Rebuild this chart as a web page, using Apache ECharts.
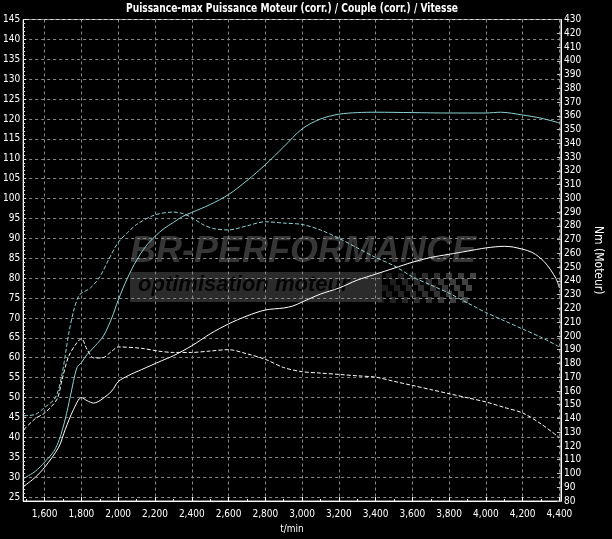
<!DOCTYPE html>
<html><head><meta charset="utf-8">
<script src="https://cdn.jsdelivr.net/npm/echarts@6/dist/echarts.min.js"></script>
<style>html,body{margin:0;padding:0;background:#000;}#c{width:612px;height:539px;}</style>
</head><body><div id="c"></div>
<script>
// ---- tick values ----
const rpmTicks = [1600,1800,2000,2200,2400,2600,2800,3000,3200,3400,3600,3800,4000,4200,4400];
const rpmMinorTicks = [1500,1600,1700,1800,1900,2000,2100,2200,2300,2400,2500,2600,2700,2800,2900,3000,3100,3200,3300,3400,3500,3600,3700,3800,3900,4000,4100,4200,4300,4400];
const powerTicks = [25,30,35,40,45,50,55,60,65,70,75,80,85,90,95,100,105,110,115,120,125,130,135,140,145];
const powerMinorTicks = [];
for (let v = 25; v <= 145; v++) powerMinorTicks.push(v);

// ---- Puissance (corr.) reprog : cyan solid (left axis) ----
const cyanPowerRpm = [1487,1550,1600,1650,1680,1712,1740,1775,1800,1830,1875,1920,1965,2000,2050,2100,2150,2200,2250,2300,2350,2400,2500,2600,2700,2800,2900,3000,3100,3200,3300,3400,3600,3800,4000,4080,4200,4300,4400];
const cyanPower    = [29.7,31.5,33.8,36.5,39.5,44.6,50.4,57.5,58.8,60.8,63,65.5,70,74.5,80,84.5,88,90.5,92.5,94,95.5,96.5,98.5,101,104.5,108.5,113,117.5,120,121.2,121.6,121.7,121.6,121.5,121.5,121.7,121,120.2,119];

// ---- Couple (corr.) reprog : cyan dashed (right axis, Nm) ----
const cyanTorqueRpm = [1487,1550,1600,1658,1694,1730,1757,1784,1800,1850,1900,1950,2000,2050,2100,2200,2300,2350,2400,2460,2520,2600,2700,2800,2900,3000,3100,3200,3300,3400,3500,3600,3700,3800,3900,4000,4100,4200,4300,4400];
const cyanTorque    = [142,143,148,155,172,201,218,229,231,235,243,256,268,275,281,288,290,289,286,281,278,277,280,283,282,281,277,271,264,257,251,243,237,231,224,217,211,205,199,192];

// ---- Puissance origine : white solid (left axis) ----
const whitePowerRpm = [1487,1550,1600,1676,1712,1757,1800,1831,1867,1912,1966,2000,2054,2126,2234,2300,2400,2500,2600,2700,2800,2900,2950,3000,3100,3200,3300,3400,3500,3600,3700,3800,3900,4000,4100,4150,4250,4320,4380,4400];
const whitePower    = [27.7,30,32.5,37.5,42,47,50,49.2,48.6,49.6,51.7,54,55.5,57,59.2,60.5,63,66,68.5,70.5,72,72.5,73,74,76,77.5,79.5,81,82.5,84,85.2,86,86.8,87.6,88,87.8,86.5,84,80,77.5];

// ---- Couple origine : white dashed (right axis, Nm) ----
const whiteTorqueRpm = [1487,1550,1600,1667,1694,1730,1775,1800,1831,1867,1912,1966,2000,2126,2216,2300,2400,2500,2600,2700,2800,2900,3000,3100,3200,3300,3400,3500,3600,3700,3800,3900,4000,4100,4200,4300,4400];
const whiteTorque    = [132,140,144,154,168,185,195,198,190,184,184,189,192,191,189,188,188,189,190,187,183,177,174,173,172,171,170,167,164,161,158,155,152,148,144,136,126];

const NARROW = "'Liberation Sans Narrow','DejaVu Sans Condensed','Arial Narrow',sans-serif";
const zip = (xs, ys) => xs.map((x, i) => [x, ys[i]]);

// checkered flag decoration of the watermark
const flag = [];
for (let r = 0; r < 5; r++) {
  for (let c = 0; c < 15; c++) {
    if ((r + c) % 2 === 0) {
      flag.push({type:'rect', shape:{x:386 + c*6 - r*2, y:273 + r*6, width:6, height:6},
        style:{fill:'rgba(75,75,75,' + (0.35 + 0.6*c/15).toFixed(2) + ')'}, z:-1, silent:true});
    }
  }
}

const chart = echarts.init(document.getElementById('c'), null, {renderer:'canvas'});
chart.setOption({
  backgroundColor:'#000',
  animation:false,
  grid:{left:17, right:45, top:19.5, bottom:32, show:true, borderColor:'#e0e0e0', borderWidth:1},
  graphic:[
    {type:'text', x:292, y:2, originX:0, scaleX:0.78, z:10, silent:true,
      style:{text:'Puissance-max Puissance Moteur (corr.) / Couple (corr.) / Vitesse', align:'center', verticalAlign:'top',
        fill:'#fff', font:'bold 13px ' + NARROW}},
    {type:'text', left:130, top:234, z:-1, silent:true,
      style:{text:'BR-PERFORMANCE', fill:'#363636', font:'italic bold 36px "Liberation Sans", Arial, sans-serif'}},
    {type:'rect', shape:{x:130, y:272, width:252, height:30}, style:{fill:'#2b2b2b'}, z:-1, silent:true},
    {type:'text', left:138, top:274, z:-1, silent:true,
      style:{text:'optimisation moteur', fill:'#050505', font:'italic bold 22px "Liberation Sans", Arial, sans-serif'}},
    ...flag
  ],
  xAxis:[{
    type:'value', min:1483, max:4408, name:'t/min', nameLocation:'middle', nameGap:23,
    nameTextStyle:{color:'#fff', fontSize:10, fontFamily:NARROW},
    axisLine:{show:true, lineStyle:{color:'#fff', width:1}},
    axisTick:{show:true, inside:true, length:4, customValues:rpmTicks, lineStyle:{color:'#fff'}},
    axisLabel:{color:'#fff', fontSize:10, fontFamily:NARROW, margin:8, customValues:rpmTicks,
      formatter:v => v.toLocaleString('en-US')},
    splitLine:{show:true, lineStyle:{color:'#8a8a8a', type:[3,3], width:1}}
  },{
    type:'value', min:1483, max:4408, position:'bottom',
    axisLine:{show:false}, axisLabel:{show:false}, splitLine:{show:false},
    axisTick:{show:true, inside:true, length:2, customValues:rpmMinorTicks, lineStyle:{color:'#fff'}}
  }],
  yAxis:[{
    type:'value', min:24, max:145, position:'left',
    axisLine:{show:true, lineStyle:{color:'#fff', width:1}},
    axisTick:{show:true, inside:true, length:3, customValues:powerTicks, lineStyle:{color:'#fff'}},
    axisLabel:{color:'#fff', fontSize:10, fontFamily:NARROW, margin:3, customValues:powerTicks},
    splitLine:{show:true, lineStyle:{color:'#8a8a8a', type:[3,3], width:1}}
  },{
    type:'value', min:80, max:430, interval:10, position:'right',
    name:'Nm (Moteur)', nameLocation:'middle', nameGap:26, nameRotate:-90,
    nameTextStyle:{color:'#fff', fontSize:12, fontFamily:NARROW},
    axisLine:{show:true, lineStyle:{color:'#fff', width:1}},
    axisTick:{show:true, inside:true, length:4, lineStyle:{color:'#bbb'}},
    axisLabel:{color:'#fff', fontSize:10, fontFamily:NARROW, margin:3},
    splitLine:{show:false}
  },{
    type:'value', min:24, max:145, position:'left',
    axisLine:{show:false}, axisLabel:{show:false}, splitLine:{show:false},
    axisTick:{show:true, inside:true, length:2, customValues:powerMinorTicks, lineStyle:{color:'#ddd'}}
  }],
  series:[
    {name:'Puissance (corr.)', type:'line', xAxisIndex:0, yAxisIndex:0, data:zip(cyanPowerRpm, cyanPower),
      showSymbol:false, smooth:0.3, lineStyle:{color:'#8cd3d3', width:1}},
    {name:'Couple (corr.)', type:'line', xAxisIndex:0, yAxisIndex:1, data:zip(cyanTorqueRpm, cyanTorque),
      showSymbol:false, smooth:0.3, lineStyle:{color:'#8cd3d3', width:1, type:[4,2]}},
    {name:'Puissance origine', type:'line', xAxisIndex:0, yAxisIndex:0, data:zip(whitePowerRpm, whitePower),
      showSymbol:false, smooth:0.3, lineStyle:{color:'#ffffff', width:1}},
    {name:'Couple origine', type:'line', xAxisIndex:0, yAxisIndex:1, data:zip(whiteTorqueRpm, whiteTorque),
      showSymbol:false, smooth:0.3, lineStyle:{color:'#ffffff', width:1, type:[4,2]}}
  ]
});
</script>
</body></html>
